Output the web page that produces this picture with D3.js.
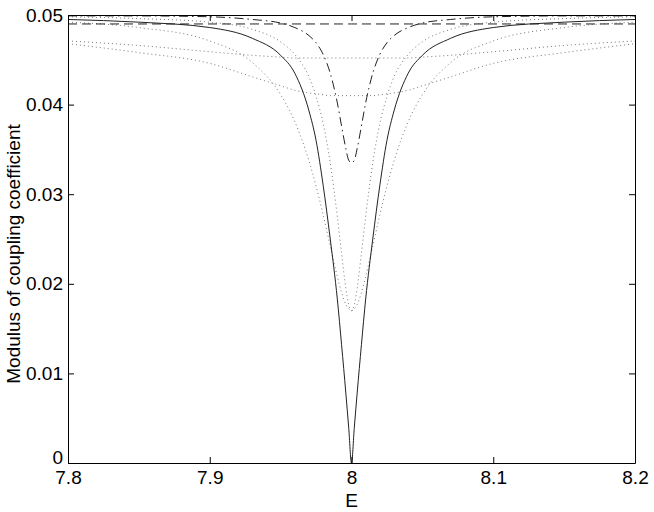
<!DOCTYPE html>
<html>
<head>
<meta charset="utf-8">
<script src="https://cdn.jsdelivr.net/npm/d3@7"></script>
<style>
  html, body { margin: 0; padding: 0; background: #fff; }
  svg { display: block; font-family: "Liberation Sans", Arial, Helvetica, sans-serif; }
</style>
</head>
<body>
<svg id="chart" width="654" height="512"></svg>
<script>
// ---- data ----
const energy = [7.8, 7.85, 7.9, 7.93, 7.95, 7.96, 7.97, 7.975, 7.98, 7.985, 7.99, 7.993, 7.996, 7.998, 8,
                8.002, 8.004, 8.007, 8.01, 8.015, 8.02, 8.025, 8.03, 8.04, 8.05, 8.07, 8.1, 8.15, 8.2];

// solid curve: drops to zero at resonance
const solidVals = [0.0495, 0.0492, 0.0486, 0.0474, 0.0455, 0.0435, 0.0393, 0.0360, 0.0310, 0.0250, 0.0183, 0.0132, 0.0078, 0.0040, 0,
                   0.0040, 0.0078, 0.0132, 0.0183, 0.0250, 0.0310, 0.0360, 0.0393, 0.0435, 0.0455, 0.0474, 0.0486, 0.0492, 0.0495];
// dash-dot curve: shallow narrow dip
const dashDotVals = [0.0499, 0.0499, 0.0498, 0.0495, 0.0491, 0.0486, 0.0477, 0.0469, 0.0456, 0.0435, 0.0402, 0.0376, 0.0351, 0.0338, 0.0335,
                     0.0338, 0.0351, 0.0376, 0.0402, 0.0435, 0.0456, 0.0469, 0.0477, 0.0486, 0.0491, 0.0495, 0.0498, 0.0499, 0.0499];
// dashed curve: flat
const dashedVals = [0.0490, 0.0490, 0.0490, 0.0490, 0.0490, 0.0490, 0.0490, 0.0490, 0.0490, 0.0490, 0.0490, 0.0490, 0.0490, 0.0490, 0.0490,
                    0.0490, 0.0490, 0.0490, 0.0490, 0.0490, 0.0490, 0.0490, 0.0490, 0.0490, 0.0490, 0.0490, 0.0490, 0.0490, 0.0490];
// dotted curves
const dottedNarrow = [0.0498, 0.0496, 0.0492, 0.0484, 0.0470, 0.0456, 0.0431, 0.0409, 0.0379, 0.0335, 0.0275, 0.0234, 0.0195, 0.0177, 0.0170,
                      0.0177, 0.0195, 0.0234, 0.0275, 0.0335, 0.0379, 0.0409, 0.0431, 0.0456, 0.0470, 0.0484, 0.0492, 0.0496, 0.0498];
const dottedWide = [0.0492, 0.0486, 0.0471, 0.0447, 0.0411, 0.0381, 0.0337, 0.0309, 0.0277, 0.0242, 0.0208, 0.0190, 0.0177, 0.0172, 0.0170,
                    0.0172, 0.0177, 0.0190, 0.0208, 0.0242, 0.0277, 0.0309, 0.0337, 0.0381, 0.0411, 0.0447, 0.0471, 0.0486, 0.0492];
const dottedShelfHigh = [0.0471, 0.0466, 0.0459, 0.0455, 0.0453, 0.0452, 0.0452, 0.0452, 0.0452, 0.0452, 0.0452, 0.0452, 0.0452, 0.0452, 0.0452,
                         0.0452, 0.0452, 0.0452, 0.0452, 0.0452, 0.0452, 0.0452, 0.0452, 0.0452, 0.0453, 0.0455, 0.0459, 0.0466, 0.0471];
const dottedShelfLow = [0.0468, 0.0458, 0.0446, 0.0431, 0.0421, 0.0416, 0.0413, 0.0412, 0.0411, 0.0410, 0.0410, 0.0410, 0.0410, 0.0410, 0.0410,
                        0.0410, 0.0410, 0.0410, 0.0410, 0.0410, 0.0411, 0.0412, 0.0413, 0.0416, 0.0421, 0.0431, 0.0446, 0.0458, 0.0468];

const xTicks = [7.8, 7.9, 8, 8.1, 8.2];
const xTickLabels = ["7.8", "7.9", "8", "8.1", "8.2"];
const yTicks = [0, 0.01, 0.02, 0.03, 0.04, 0.05];
const yTickLabels = ["0", "0.01", "0.02", "0.03", "0.04", "0.05"];
const xTitle = "E";
const yTitle = "Modulus of coupling coefficient";

// ---- layout ----
const svg = d3.select("#chart");
const L = 68, R = 635, T = 15, B = 463;
const x = d3.scaleLinear().domain([7.8, 8.2]).range([L, R]);
const y = d3.scaleLinear().domain([0, 0.05]).range([B, T]);
const tickLen = 6;
const fontSize = 19;

svg.append("defs").append("clipPath").attr("id", "clip")
  .append("rect").attr("x", L).attr("y", T).attr("width", R - L).attr("height", B - T);

const plot = svg.append("g").attr("clip-path", "url(#clip)");

const line = d3.line()
  .x((d, i) => x(energy[i]))
  .y(d => y(d))
  .curve(d3.curveMonotoneX);

const series = [
  { vals: dottedShelfLow,  stroke: "#777", width: 1, dash: "1,3" },
  { vals: dottedShelfHigh, stroke: "#777", width: 1, dash: "1,3" },
  { vals: dottedWide,      stroke: "#777", width: 1, dash: "1,3" },
  { vals: dottedNarrow,    stroke: "#777", width: 1, dash: "1,3" },
  { vals: dashedVals,      stroke: "#222", width: 1, dash: "9,5" },
  { vals: dashDotVals,     stroke: "#222", width: 1, dash: "9,4,1.5,4" },
  { vals: solidVals,       stroke: "#222", width: 1, dash: null }
];

series.forEach(s => {
  plot.append("path")
    .datum(s.vals)
    .attr("d", line)
    .attr("fill", "none")
    .attr("stroke", s.stroke)
    .attr("stroke-width", s.width)
    .attr("stroke-dasharray", s.dash);
});

// ---- axes (MATLAB style box with inward ticks) ----
const axBottom = d3.axisBottom(x).tickValues(xTicks).tickSizeInner(-tickLen).tickSizeOuter(0)
  .tickPadding(8).tickFormat((d, i) => xTickLabels[i]);
const axTop = d3.axisTop(x).tickValues(xTicks).tickSizeInner(-tickLen).tickSizeOuter(0).tickFormat("");
const axLeft = d3.axisLeft(y).tickValues(yTicks).tickSizeInner(-tickLen).tickSizeOuter(0)
  .tickPadding(5).tickFormat((d, i) => yTickLabels[i]);
const axRight = d3.axisRight(y).tickValues(yTicks).tickSizeInner(-tickLen).tickSizeOuter(0).tickFormat("");

function styleAxis(g) {
  g.selectAll(".domain").attr("stroke", "#000").attr("stroke-width", 1);
  g.selectAll(".tick line").attr("stroke", "#000").attr("stroke-width", 1);
  g.selectAll(".tick text").attr("fill", "#000")
    .style("font-size", fontSize + "px")
    .style("font-family", "'Liberation Sans', Arial, Helvetica, sans-serif");
}

svg.append("g").attr("transform", `translate(0,${B})`).call(axBottom).call(styleAxis);
svg.append("g").attr("transform", `translate(0,${T})`).call(axTop).call(styleAxis);
const gLeft = svg.append("g").attr("transform", `translate(${L},0)`).call(axLeft).call(styleAxis);
svg.append("g").attr("transform", `translate(${R},0)`).call(axRight).call(styleAxis);

// the "0" label sits slightly raised above the "7.8" label, as in the reference
gLeft.selectAll(".tick text").filter(d => d === 0).attr("dy", "0.05em");

// titles
svg.append("text")
  .attr("x", (L + R) / 2).attr("y", 507)
  .attr("text-anchor", "middle")
  .style("font-size", fontSize + "px")
  .attr("fill", "#000")
  .text(xTitle);

svg.append("text")
  .attr("transform", `translate(20,254) rotate(-90)`)
  .attr("text-anchor", "middle")
  .style("font-size", fontSize + "px")
  .attr("fill", "#000")
  .text(yTitle);
</script>
</body>
</html>
